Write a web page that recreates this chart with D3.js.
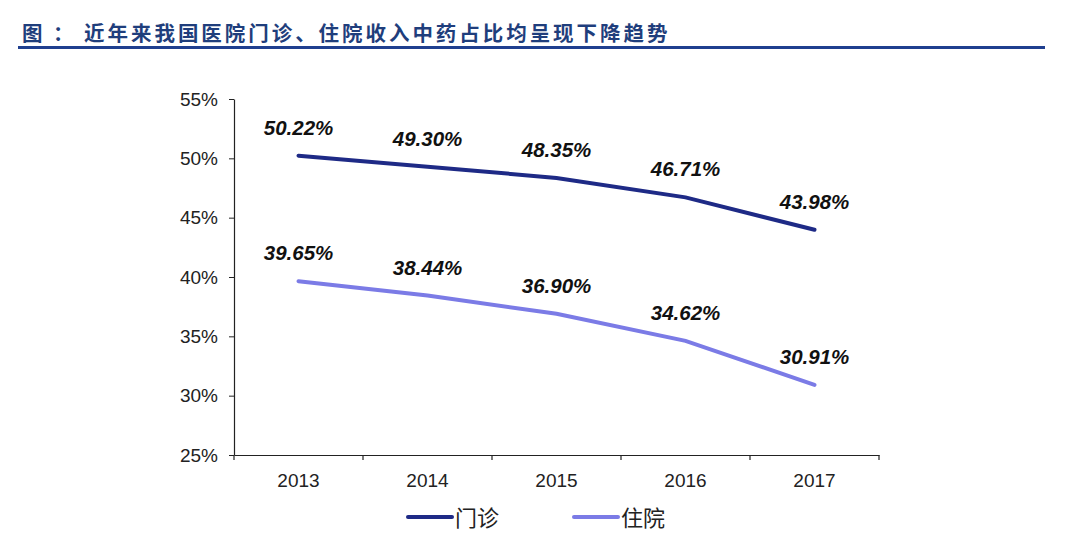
<!DOCTYPE html>
<html><head><meta charset="utf-8">
<script src="https://cdn.jsdelivr.net/npm/d3@7"></script>
<style>body{margin:0;background:#fff;}svg{display:block;}</style>
</head><body><svg id="c" width="1080" height="535"></svg>
<script>
const years = ["2013","2014","2015","2016","2017"];
const outpatient = [50.22, 49.30, 48.35, 46.71, 43.98];
const inpatient = [39.65, 38.44, 36.90, 34.62, 30.91];
const yTicks = [25,30,35,40,45,50,55];
const seriesNames = ["门诊","住院"];
const colors = ["#1e2a86","#7b7be6"];
const title = "图 ： 近年来我国医院门诊、住院收入中药占比均呈现下降趋势";

const svg = d3.select("#c");
svg.append("text").attr("x",22).attr("y",41).attr("fill","#1f3e7c")
  .attr("font-family","Noto Sans CJK SC").attr("font-weight","bold").attr("font-size",20.5)
  .attr("letter-spacing",2.95).attr("xml:space","preserve").style("white-space","pre").text(title);
svg.append("rect").attr("x",18).attr("y",46).attr("width",1027).attr("height",3).attr("fill","#1f3f8f");

const L=234,R=879,T=99,B=455;
const x = d3.scaleBand().domain(years).range([L,R]);
const y = d3.scaleLinear().domain([25,55]).range([B,T]);

const ya = svg.append("g").attr("transform",`translate(${L},0)`)
  .call(d3.axisLeft(y).tickValues(yTicks).tickFormat(d=>d+"%").tickSize(5).tickSizeOuter(0));
ya.select(".domain").attr("stroke","#222").attr("stroke-width",1.2);
ya.selectAll(".tick line").attr("stroke","#222");
ya.selectAll("text").attr("font-family","Liberation Sans, Arial").attr("font-size",19).attr("fill","#222").attr("x",-16);

const xa = svg.append("g").attr("transform",`translate(0,${B})`)
  .call(d3.axisBottom(x).tickSize(0).tickSizeOuter(0));
xa.select(".domain").attr("stroke","#222").attr("stroke-width",1.2);
xa.selectAll("text").attr("font-family","Liberation Sans, Arial").attr("font-size",19).attr("fill","#222").attr("y",19).attr("dy","0.71em");
const bounds = years.map(d=>x(d)).concat([R]);
xa.selectAll(".bt").data(bounds).enter().append("line").attr("class","bt")
  .attr("x1",d=>d).attr("x2",d=>d).attr("y1",0).attr("y2",5).attr("stroke","#222").attr("stroke-width",1.2);

const line = d3.line().x((d,i)=>x(years[i])+x.bandwidth()/2).y(d=>y(d));
[outpatient,inpatient].forEach((s,k)=>{
  svg.append("path").datum(s).attr("d",line).attr("fill","none")
    .attr("stroke",colors[k]).attr("stroke-width",4).attr("stroke-linecap","round");
  svg.selectAll(".lab"+k).data(s).enter().append("text")
    .attr("x",(d,i)=>x(years[i])+x.bandwidth()/2).attr("y",d=>y(d)-21)
    .attr("text-anchor","middle").attr("font-family","Liberation Sans, Arial")
    .attr("font-weight","bold").attr("font-style","italic").attr("font-size",20.5).attr("fill","#111")
    .text(d=>d.toFixed(2)+"%");
});

const legX=[408,574];
seriesNames.forEach((n,k)=>{
  svg.append("line").attr("x1",legX[k]).attr("x2",legX[k]+44).attr("y1",517).attr("y2",517)
    .attr("stroke",colors[k]).attr("stroke-width",4).attr("stroke-linecap","round");
  svg.append("text").attr("x",legX[k]+47).attr("y",526).attr("font-family","Noto Sans CJK SC")
    .attr("font-size",22).attr("fill","#222").text(n);
});
</script></body></html>
